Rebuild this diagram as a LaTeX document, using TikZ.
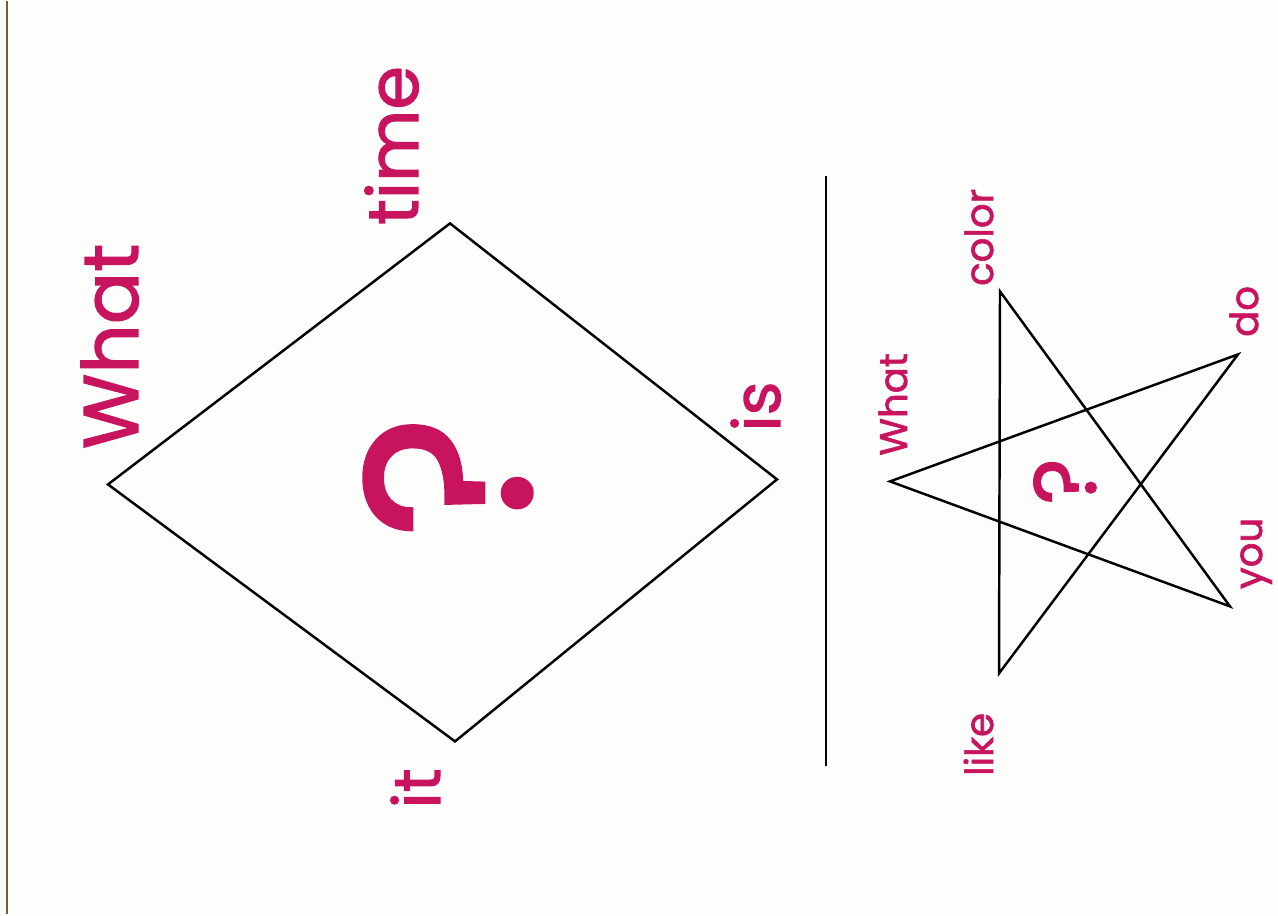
\documentclass[tikz,border=0pt]{standalone}
\usepackage{fontspec}
\setmainfont{Poppins}
\newfontfamily\cardfont{Poppins}[FakeBold=1.6]
\definecolor{cardpink}{RGB}{200,20,95}
\definecolor{edgebrown}{RGB}{115,95,50}
\definecolor{paper}{RGB}{253,253,251}
\tikzset{
  word/.style={text=cardpink, rotate=90, anchor=base, inner sep=0pt},
  query/.style={text=cardpink, rotate=90, anchor=center, inner sep=0pt},
  outline/.style={line width=1.4pt, line join=miter},
}
\begin{document}
\begin{tikzpicture}[x=0.02cm, y=-0.02cm]
\fill[paper] (0,0) rectangle (1278,913);
\draw[edgebrown, line width=1.6pt] (7,0) -- (7,913);

% diamond
\coordinate (dl) at (108,483);
\coordinate (dt) at (450,222);
\coordinate (dr) at (777,478);
\coordinate (db) at (455,740);
\draw[outline] (dl) -- (dt) -- (dr) -- (db) -- cycle;
\node[query, font=\fontsize{134}{134}\cardfont] (bigq) at (448,475) {?};
\node[word, font=\fontsize{44}{44}\cardfont] (w1) at (138,345) {What};
\node[word, font=\fontsize{40}{40}\cardfont] (w2) at (418,144) {time};
\node[word, font=\fontsize{37}{37}\cardfont] (w3) at (780,405) {is};
\node[word, font=\fontsize{37}{37}\cardfont] (w4) at (440,787) {it};

% divider
\coordinate (ltop) at (826,175);
\coordinate (lbot) at (826,765);
\draw[line width=1.6pt] (ltop) -- (lbot);

% star
\coordinate (sa) at (890,480);
\coordinate (sb) at (1000,290);
\coordinate (sc) at (1238,353);
\coordinate (sd) at (1230,605);
\coordinate (se) at (999,672);
\draw[outline] (sa) -- (sc) -- (se) -- (sb) -- (sd) -- cycle;
\node[query, font=\fontsize{50}{50}\cardfont] (smallq) at (1065,480) {?};
\node[word, font=\fontsize{22}{22}\cardfont] (s1) at (907,403) {What};
\node[word, font=\fontsize{22}{22}\cardfont] (s2) at (993,236) {color};
\node[word, font=\fontsize{22}{22}\cardfont] (s3) at (1258,310) {do};
\node[word, font=\fontsize{22}{22}\cardfont] (s4) at (1262,552) {you};
\node[word, font=\fontsize{22}{22}\cardfont] (s5) at (993,743) {like};
\end{tikzpicture}
\end{document}
